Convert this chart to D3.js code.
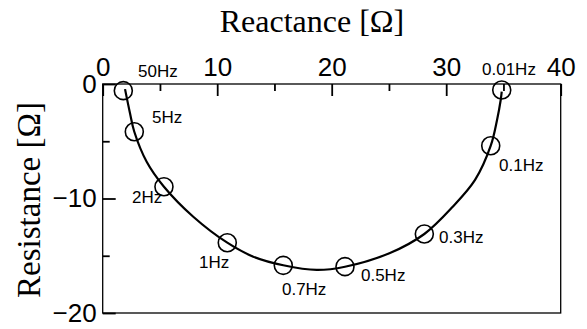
<!DOCTYPE html>
<html>
<head>
<meta charset="utf-8">
<script src="https://cdn.jsdelivr.net/npm/d3@7"></script>
<style>
  html, body { margin: 0; padding: 0; background: #fff; }
  svg { display: block; }
</style>
</head>
<body>
<svg id="chart" width="587" height="329"></svg>
<script>
// Measured impedance points (reactance, resistance) with their frequencies
const freqLabels = ["50Hz", "5Hz", "2Hz", "1Hz", "0.7Hz", "0.5Hz", "0.3Hz", "0.1Hz", "0.01Hz"];
const reactance  = [1.80, 2.76, 5.35, 10.88, 15.77, 21.16, 28.09, 33.89, 34.85];
const resistance = [-0.58, -4.17, -8.97, -13.86, -15.84, -15.95, -13.10, -5.39, -0.52];

// Fitted arc through the measurements
const fitReactance  = [1.95, 2.38, 2.76, 3.84, 5.35, 7.91, 10.88, 13.15, 15.77, 18.69, 21.16, 25.09, 28.09, 30.57, 32.52, 33.89, 34.44, 34.76, 34.85];
const fitResistance = [-0.45, -2.53, -4.17, -6.79, -8.97, -11.59, -13.86, -15.08, -15.83, -16.24, -15.96, -14.76, -13.10, -10.72, -8.38, -5.39, -3.14, -1.40, -0.67];

// Axis ticks
const xMajorTicks = [0, 10, 20, 30, 40];
const xMinorTicks = [5, 15, 25, 35];
const yMajorTicks = [0, -10, -20];
const yMinorTicks = [-5, -15];

// Label placement relative to each marker (pixels: left edge, baseline)
const labelOffsets = [
  [14.7, -13.7], [17.7, -8.7], [-32, 16.3], [-28.3, 25.3], [-1.3, 29.7],
  [16, 14.3], [14.7, 9], [8.3, 25.3], [-19.7, -15]
];

const svg = d3.select("#chart");
const plotLeft = 102.7, plotRight = 560.7, plotTop = 84, plotBottom = 313;

const x = d3.scaleLinear().domain([0, 40]).range([plotLeft, plotRight]);
const y = d3.scaleLinear().domain([0, -20]).range([plotTop, plotBottom]);

const sans = "'Liberation Sans', Arial, Helvetica, sans-serif";
const serif = "'Liberation Serif', 'Times New Roman', serif";

// Top axis: major ticks with labels, pointing inward
const xAxis = svg.append("g")
  .attr("transform", `translate(0,${plotTop})`)
  .call(d3.axisTop(x).tickValues(xMajorTicks).tickSize(-12).tickPadding(8).tickFormat(d3.format("d")));
const xMinor = svg.append("g")
  .attr("transform", `translate(0,${plotTop})`)
  .call(d3.axisTop(x).tickValues(xMinorTicks).tickSize(-7).tickFormat(""));

// Left axis
const yAxis = svg.append("g")
  .attr("transform", `translate(${plotLeft},0)`)
  .call(d3.axisLeft(y).tickValues(yMajorTicks).tickSize(-13).tickPadding(6).tickFormat(d3.format("d")));
const yMinor = svg.append("g")
  .attr("transform", `translate(${plotLeft},0)`)
  .call(d3.axisLeft(y).tickValues(yMinorTicks).tickSize(-7).tickFormat(""));

[xAxis, xMinor, yAxis, yMinor].forEach(g => {
  g.select(".domain").remove();
  g.selectAll(".tick line").attr("stroke", "#000").attr("stroke-width", 1.8);
  g.selectAll(".tick text")
    .attr("fill", "#000")
    .style("font-family", sans)
    .style("font-size", "26px");
});

// Plot frame
svg.append("rect")
  .attr("x", plotLeft).attr("y", plotTop)
  .attr("width", plotRight - plotLeft).attr("height", plotBottom - plotTop)
  .attr("fill", "none").attr("stroke", "#000").attr("stroke-width", 1.3);

// Fitted curve
const fitPts = fitReactance.map((v, i) => [v, fitResistance[i]]);
svg.append("path")
  .datum(fitPts)
  .attr("fill", "none")
  .attr("stroke", "#000")
  .attr("stroke-width", 2.2)
  .attr("d", d3.line().x(d => x(d[0])).y(d => y(d[1])).curve(d3.curveCatmullRom.alpha(0.5)));

// Measurement markers
const pts = reactance.map((v, i) => ({ x: v, y: resistance[i], label: freqLabels[i], off: labelOffsets[i] }));
svg.append("g").selectAll("circle")
  .data(pts).join("circle")
  .attr("cx", d => x(d.x)).attr("cy", d => y(d.y)).attr("r", 9)
  .attr("fill", "none").attr("stroke", "#000").attr("stroke-width", 1.6);

svg.append("g").selectAll("text")
  .data(pts).join("text")
  .attr("x", d => x(d.x) + d.off[0])
  .attr("y", d => y(d.y) + d.off[1])
  .style("font-family", sans)
  .style("font-size", "17px")
  .attr("fill", "#000")
  .text(d => d.label);

// Axis titles
svg.append("text")
  .attr("x", 312).attr("y", 32)
  .attr("text-anchor", "middle")
  .style("font-family", serif).style("font-size", "32px")
  .text("Reactance [Ω]");

svg.append("text")
  .attr("transform", "translate(40,200) rotate(-90)")
  .attr("text-anchor", "middle")
  .style("font-family", serif).style("font-size", "33px")
  .text("Resistance [Ω]");
</script>
</body>
</html>
